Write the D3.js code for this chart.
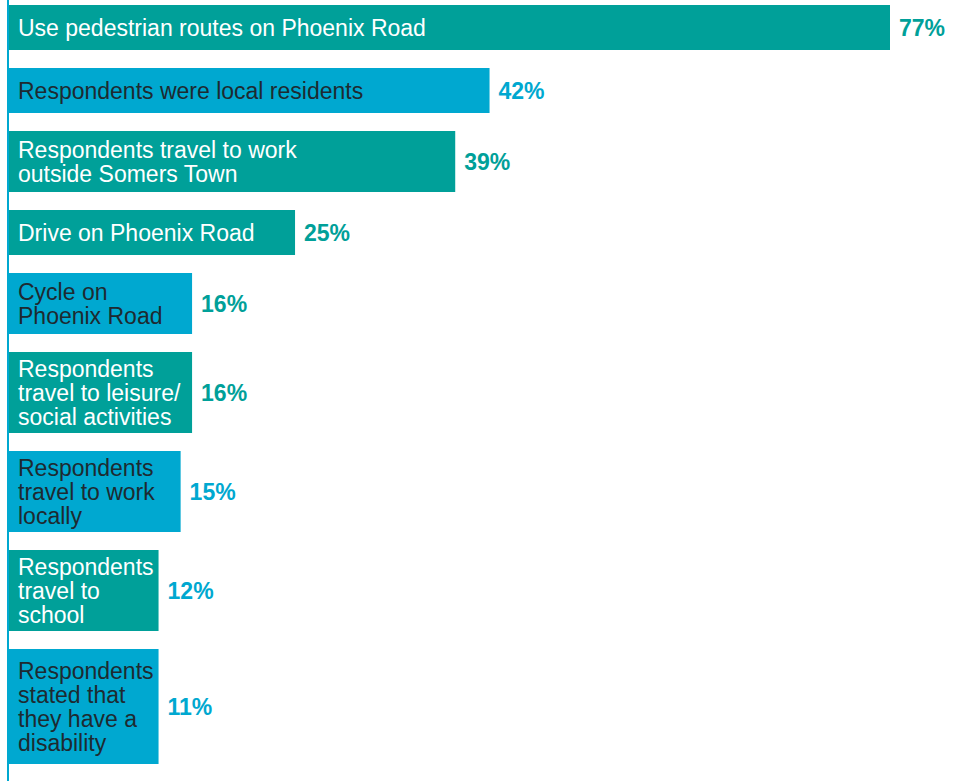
<!DOCTYPE html>
<html>
<head>
<meta charset="utf-8">
<script src="https://cdn.jsdelivr.net/npm/d3@7"></script>
<style>
  body { margin: 0; background: #fff; }
  svg { display: block; }
  .lbl { font-family: "Liberation Sans", Arial, sans-serif; font-size: 23px; }
  .pct { font-family: "Liberation Sans", Arial, sans-serif; font-size: 23px; font-weight: bold; }
</style>
</head>
<body>
<div class="chart"></div>
<script>
// survey answers, top to bottom
var labels = [
    "Use pedestrian routes on Phoenix Road",
    "Respondents were local residents",
    "Respondents travel to work\noutside Somers Town",
    "Drive on Phoenix Road",
    "Cycle on\nPhoenix Road",
    "Respondents\ntravel to leisure/\nsocial activities",
    "Respondents\ntravel to work\nlocally",
    "Respondents\ntravel to\nschool",
    "Respondents\nstated that\nthey have a\ndisability"
];
var values = [77, 42, 39, 25, 16, 16, 15, 12, 11];
var barTone = ["teal", "blue", "teal", "teal", "blue", "teal", "blue", "teal", "blue"];
var pctTone = ["teal", "blue", "teal", "teal", "teal", "teal", "blue", "blue", "blue"];

var width = 958,
    height = 781;

var colours = { teal: "#00a099", blue: "#00a8d0" };
var textColours = { teal: "#ffffff", blue: "#1e2a30" };

// bar height depends on how many lines the label has
var bandHeight = { 1: 45, 2: 61, 3: 81, 4: 115 };
var gap = 18,
    startY = 5,
    axisX = 8,
    lineH = 24;

var svg = d3.select("div.chart")
    .append("svg")
    .attr("width", width)
    .attr("height", height);

var x = d3.scaleLinear()
    .domain([0, 77])
    .range([0, 881]);

var rows = labels.map(function(l, i){
    return { lines: l.split("\n"), value: values[i], bar: barTone[i], pct: pctTone[i] };
});

// stack rows vertically
var cursor = startY;
rows.forEach(function(r){
    r.y = cursor;
    r.h = bandHeight[r.lines.length];
    cursor += r.h + gap;
});

var g = svg.selectAll(".row")
    .data(rows)
    .enter()
    .append("g")
    .attr("class", "row")
    .attr("transform", function(d){ return "translate(" + (axisX + 1) + "," + d.y + ")"; });

var bars = g.append("rect")
    .attr("x", 0)
    .attr("y", 0)
    .attr("height", function(d){ return d.h; })
    .attr("fill", function(d){ return colours[d.bar]; });

var txt = g.append("text")
    .attr("class", "lbl")
    .attr("fill", function(d){ return textColours[d.bar]; });

txt.each(function(d){
    var t = d3.select(this);
    var first = d.h / 2 - (d.lines.length - 1) * lineH / 2 + 8;
    d.lines.forEach(function(line, k){
        t.append("tspan")
            .attr("x", 9)
            .attr("y", first + k * lineH)
            .text(line);
    });
    // widest line decides the minimum bar length
    var w = 0;
    t.selectAll("tspan").each(function(){
        w = Math.max(w, this.getComputedTextLength());
    });
    d.w = Math.max(x(d.value), w + 14);
});

bars.attr("width", function(d){ return d.w; });

g.append("text")
    .attr("class", "pct")
    .attr("x", function(d){ return d.w + 9; })
    .attr("y", function(d){ return d.h / 2 + 8; })
    .attr("fill", function(d){ return colours[d.pct]; })
    .text(function(d){ return d.value + "%"; });

// left axis line
svg.append("line")
    .attr("x1", axisX)
    .attr("x2", axisX)
    .attr("y1", 0)
    .attr("y2", height)
    .attr("stroke", colours.blue)
    .attr("stroke-width", 2);
</script>
</body>
</html>
